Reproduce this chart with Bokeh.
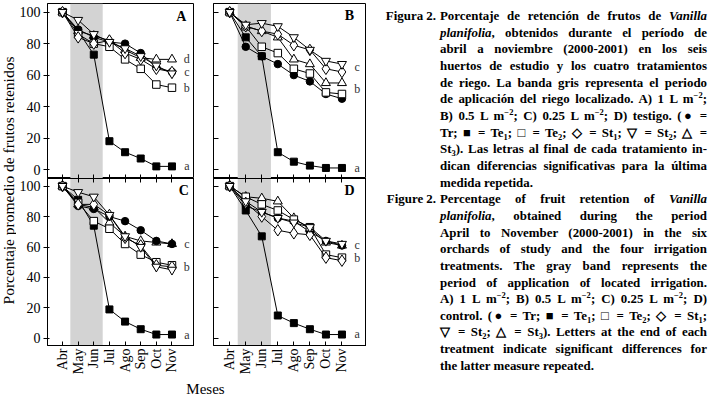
import math
from bokeh.plotting import figure
from bokeh.models import Range1d, FixedTicker, BoxAnnotation, LinearAxis, Div, Label
from bokeh.layouts import row, column
from bokeh.core.properties import value
from bokeh.embed import file_html
from bokeh.resources import INLINE

months = ["Abr", "May", "Jun", "Jul", "Ago", "Sep", "Oct", "Nov"]
y_ticks = [0, 20, 40, 60, 80, 100]
band_start = 0.5
band_end = 2.57

# Panel A (1 L m-2)
A_Tr  = [100, 89, 84, 81, 80, 74, 65, 62]
A_Te1 = [100, 88, 73, 18, 11, 7, 2, 2]
A_Te2 = [100, 86, 80, 78, 70, 64, 54, 52]
A_St1 = [100, 84, 80, 82, 74, 70, 64, 62]
A_St2 = [100, 95, 86, 81, 77, 72, 66, 61]
A_St3 = [100, 88, 85, 82, 76, 71, 70, 70]
A_letters = ["d", "c", "b", "a"]
A_letters_y = [70, 62, 52, 2]

# Panel B (0.5 L m-2)
B_Tr  = [100, 78, 72, 67, 60, 56, 48, 45]
B_Te1 = [100, 84, 72, 11, 5, 2.5, 1, 1]
B_Te2 = [100, 91, 78, 74, 64, 61, 49, 48]
B_St1 = [100, 91, 88, 86, 79, 76, 64, 62]
B_St2 = [100, 92, 93, 91, 84, 76, 69, 67]
B_St3 = [100, 91, 88, 84, 70, 67, 55, 55]
B_letters = ["c", "b", "a"]
B_letters_y = [65, 51, 1]

# Panel C (0.25 L m-2)
C_Tr  = [100, 87, 85, 80, 77, 71, 64, 62]
C_Te1 = [100, 91, 74, 19, 11, 6, 2.5, 2.5]
C_Te2 = [100, 89, 77, 72, 62, 55, 50, 48]
C_St1 = [100, 88, 88, 81, 66, 61, 48, 47]
C_St2 = [100, 96, 93, 81, 67, 60, 47, 45]
C_St3 = [100, 88, 86, 76, 67, 64, 63, 62]
C_letters = ["c", "b", "a"]
C_letters_y = [62, 47, 2.5]

# Panel D (testigo)
D_Tr  = [100, 87, 83, 79, 77, 70, 64, 61]
D_Te1 = [100, 84, 67, 15, 10, 6, 2.5, 2.5]
D_Te2 = [100, 93, 88, 84, 78, 73, 55, 53]
D_St1 = [100, 89, 80, 71, 69, 68, 53, 51]
D_St2 = [100, 90, 83, 79, 76, 73, 64, 62]
D_St3 = [100, 93, 92, 90, 79, 72, 63, 61]
D_letters = ["c", "b", "a"]
D_letters_y = [61.5, 52.5, 2.6]

SERIF = "Liberation Serif"

styles = {
    "Tr":  dict(marker="circle", size=7.5, fill_color="black"),
    "Te1": dict(marker="square", size=7, fill_color="black"),
    "Te2": dict(marker="square", size=7.5, fill_color="white"),
    "St1": dict(marker="diamond", size=11.5, fill_color="white"),
    "St2": dict(marker="inverted_triangle", size=9, fill_color="white"),
    "St3": dict(marker="triangle", size=9, fill_color="white"),
}
draw_order = ["St3", "Te1", "Tr", "Te2", "St1", "St2"]


def hide_labels(ax, ticks):
    ax.major_label_overrides = {t: "" for t in ticks}
    ax.major_label_text_font_size = "1px"
    ax.major_label_standoff = 0


def panel(name, data, letters, letters_y, w, h, xr, yr, left_border, top_border,
          bottom_labels, y_labels, label_pos):
    p = figure(width=w, height=h, x_range=Range1d(*xr), y_range=Range1d(*yr),
               output_backend="svg", toolbar_location=None, min_border=0,
               min_border_left=left_border, min_border_top=top_border,
               min_border_bottom=(28 if bottom_labels else 0), min_border_right=0)
    p.outline_line_color = "black"
    p.outline_line_width = 1
    p.grid.visible = False
    p.background_fill_color = "white"
    p.border_fill_color = "white"
    p.add_layout(BoxAnnotation(left=band_start, right=band_end, fill_color="#d3d3d3",
                               fill_alpha=1, line_color=None, level="underlay"))

    xt = list(range(len(months)))
    xax = p.xaxis[0]
    xax.ticker = FixedTicker(ticks=xt)
    xax.major_tick_in = 4
    xax.major_tick_out = 0
    xax.minor_tick_in = 0
    xax.minor_tick_out = 0
    xax.axis_line_color = "black"
    xax.major_tick_line_color = "black"
    if bottom_labels:
        xax.major_label_overrides = {i: m for i, m in enumerate(months)}
        xax.major_label_orientation = math.pi / 2
        xax.major_label_text_font = SERIF
        xax.major_label_text_font_size = "14px"
        xax.major_label_text_color = "black"
        xax.major_label_standoff = 3
        top = LinearAxis(ticker=FixedTicker(ticks=xt), major_tick_in=4, major_tick_out=0,
                         minor_tick_in=0, minor_tick_out=0, axis_line_color="black")
        hide_labels(top, xt)
        p.add_layout(top, "above")
    else:
        hide_labels(xax, xt)

    yax = p.yaxis[0]
    yax.ticker = FixedTicker(ticks=y_ticks)
    yax.minor_tick_in = 0
    yax.minor_tick_out = 0
    yax.axis_line_color = "black"
    if y_labels:
        yax.major_tick_in = 2
        yax.major_tick_out = 4
        yax.major_label_text_font = SERIF
        yax.major_label_text_font_size = "14px"
        yax.major_label_text_color = "black"
        yax.major_label_standoff = 3
    else:
        yax.major_tick_in = 5
        yax.major_tick_out = 0
        hide_labels(yax, y_ticks)

    for key in draw_order:
        st = styles[key]
        p.line(xt, data[key], line_color="black", line_width=1)
        p.scatter(xt, data[key], marker=st["marker"], size=st["size"],
                  fill_color=st["fill_color"], line_color="black", line_width=1)

    lx = len(months) - 1 + 0.95
    p.text(x=[lx] * len(letters), y=letters_y, text=letters,
           text_font=value(SERIF), text_font_size="12px", text_color="#333333",
           text_align="center", text_baseline="middle")
    p.add_layout(Label(x=label_pos[0], y=label_pos[1], text=name, text_font=SERIF,
                       text_font_style="bold", text_font_size="14px", text_color="black",
                       text_align="center", text_baseline="middle"))
    return p


dA = dict(Tr=A_Tr, Te1=A_Te1, Te2=A_Te2, St1=A_St1, St2=A_St2, St3=A_St3)
dB = dict(Tr=B_Tr, Te1=B_Te1, Te2=B_Te2, St1=B_St1, St2=B_St2, St3=B_St3)
dC = dict(Tr=C_Tr, Te1=C_Te1, Te2=C_Te2, St1=C_St1, St2=C_St2, St3=C_St3)
dD = dict(Tr=D_Tr, Te1=D_Te1, Te2=D_Te2, St1=D_St1, St2=D_St2, St3=D_St3)

xr_left = (-0.96, 8.44)
xr_right = (-1.01, 8.53)
yr_top = (-5.7, 105.5)
yr_bot = (-4.7, 105.0)

TOP_H, BOT_H = 178, 199
pA = panel("A", dA, A_letters, A_letters_y, 178, TOP_H, xr_left, yr_top, 28, 3, False, True, (7.6, 97))
pB = panel("B", dB, B_letters, B_letters_y, 172, TOP_H, xr_right, yr_top, 19, 3, False, False, (7.47, 98))
pC = panel("C", dC, C_letters, C_letters_y, 178, BOT_H, xr_left, yr_bot, 28, 0, True, True, (7.76, 97))
pD = panel("D", dD, D_letters, D_letters_y, 172, BOT_H, xr_right, yr_bot, 19, 0, True, False, (7.47, 97))

# y axis title
YW, YH = 16, 349
ylab = figure(width=YW, height=YH, x_range=Range1d(0, YW), y_range=Range1d(0, YH),
              output_backend="svg", toolbar_location=None, min_border=0)
ylab.axis.visible = False
ylab.grid.visible = False
ylab.outline_line_color = None
ylab.text(x=[8], y=[YH - 180], text=["Porcentaje promedio de frutos retenidos"], angle=math.pi / 2,
          text_font=value(SERIF), text_font_size="15.5px", text_color="black",
          text_align="center", text_baseline="middle")

# x axis title
XW, XH = 350, 19
xlab = figure(width=XW, height=XH, x_range=Range1d(0, XW), y_range=Range1d(0, XH),
              output_backend="svg", toolbar_location=None, min_border=0)
xlab.axis.visible = False
xlab.grid.visible = False
xlab.outline_line_color = None
xlab.text(x=[189], y=[8], text=["Meses"], text_font=value(SERIF), text_font_size="15px",
          text_color="black", text_align="center", text_baseline="middle")

SUP = '<span style="font-size:8.5px;line-height:0;position:relative;top:-5px">−2</span>'
def SUB(t):
    return '<span style="font-size:8.5px;line-height:0;position:relative;top:3px">%s</span>' % t

es_lines = [
    "Porcentaje de retención de frutos de <i>Vanilla</i>",
    "<i>planifolia</i>, obtenidos durante el período de",
    "abril a noviembre (2000-2001) en los seis",
    "huertos de estudio y los cuatro tratamientos",
    "de riego. La banda gris representa el periodo",
    "de aplicación del riego localizado. A) 1 L m" + SUP + ";",
    "B) 0.5 L m" + SUP + "; C) 0.25 L m" + SUP + "; D) testigo. (● =",
    "Tr; ■ = Te" + SUB(1) + "; □ = Te" + SUB(2) + "; ◇ = St" + SUB(1) + "; ▽ = St" + SUB(2) + "; △ =",
    "St" + SUB(3) + "). Las letras al final de cada tratamiento in-",
    "dican diferencias significativas para la última",
    "medida repetida.",
]
en_lines = [
    "Percentage of fruit retention of <i>Vanilla</i>",
    "<i>planifolia</i>, obtained during the period",
    "April to November (2000-2001) in the six",
    "orchards of study and the four irrigation",
    "treatments. The gray band represents the",
    "period of application of located irrigation.",
    "A) 1 L m" + SUP + "; B) 0.5 L m" + SUP + "; C) 0.25 L m" + SUP + "; D)",
    "control. (● = Tr; ■ = Te" + SUB(1) + "; □ = Te" + SUB(2) + "; ◇ = St" + SUB(1) + ";",
    "▽ = St" + SUB(2) + "; △ = St" + SUB(3) + "). Letters at the end of each",
    "treatment indicate significant differences for",
    "the latter measure repeated.",
]

BODY_LEFT = 69
BODY_W = 267
LH = 16.67

def block(label, lines):
    out = []
    for i, ln in enumerate(lines):
        last = i == len(lines) - 1
        lab = ""
        if i == 0:
            lab = ('<span style="position:absolute;left:-%dpx;top:0;width:%dpx;text-align:right;'
                   'text-align-last:right;">%s</span>' % (BODY_LEFT, BODY_LEFT - 4, label))
        out.append('<div style="position:relative;margin-left:%dpx;width:%dpx;height:%spx;line-height:%spx;'
                   'text-align:justify;text-align-last:%s;">%s%s</div>'
                   % (BODY_LEFT, BODY_W, LH, LH, "left" if last else "justify", lab, ln))
    return "".join(out)

caption_html = ('<div style="font-family:\'Liberation Serif\',serif;font-weight:bold;font-size:12.9px;'
                'color:#000;width:%dpx;padding-top:3px;position:relative;">' % (BODY_LEFT + BODY_W)
                + block("Figura 2.", es_lines) + block("Figure 2.", en_lines) + '</div>')
caption = Div(text=caption_html, width=BODY_LEFT + BODY_W, height=380)

plots = column(row(pA, pB), row(pC, pD), xlab)
layout = row(column(ylab), plots, caption)

open("out.html", "w").write(file_html(layout, INLINE))
